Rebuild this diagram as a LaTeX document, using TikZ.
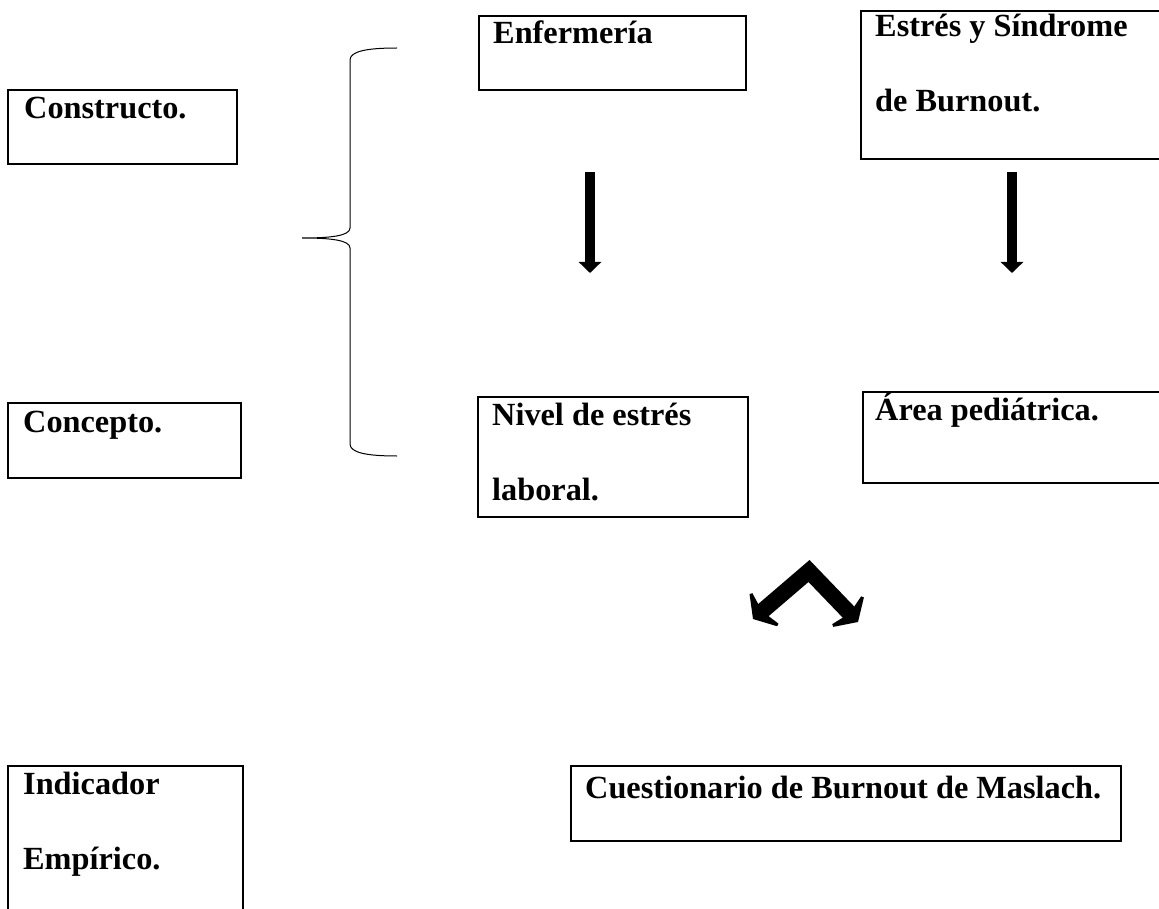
\documentclass[tikz,border=0pt]{standalone}
\usepackage{fontspec}
\setmainfont{Liberation Serif}
\usetikzlibrary{arrows.meta,positioning}

\tikzset{
  caja/.style={draw, line width=1.6pt, inner sep=0pt, anchor=north west},
  etiqueta/.style={anchor=base west, align=left, inner sep=0pt,
    font=\fontsize{32.3}{75}\selectfont\bfseries},
  flecha/.style={line width=10pt, -{Triangle[width=22pt,length=11pt]}},
}

\begin{document}
\begin{tikzpicture}[x=1pt, y=-1pt]
  \useasboundingbox (0,0) rectangle (1159,909);
  % left column
  \node[caja, minimum width=229, minimum height=74] (constructo) at (7,89) {};
  \node[etiqueta] (tconstructo) at ([xshift=17pt,yshift=-30pt]constructo.north west) {Constructo.};
  \node[caja, minimum width=233, minimum height=75] (concepto) at (7,402) {};
  \node[etiqueta] (tconcepto) at ([xshift=16pt,yshift=-30pt]concepto.north west) {Concepto.};
  \node[caja, minimum width=235, minimum height=170] (indicador) at (7,765) {};
  % two lines: base is the second line
  \node[etiqueta] (tindicador) at ([xshift=16pt,yshift=-104pt]indicador.north west) {Indicador\\Empírico.};
  % brace
  \draw[line width=1pt] (397,48) .. controls (368,48) and (350,51) .. (350,60)
    -- (350,228) .. controls (350,236) and (330,238) .. (302,238)
    .. controls (330,238) and (350,240) .. (350,248)
    -- (350,444) .. controls (350,453) and (368,456) .. (397,456);
  % middle column
  \node[caja, minimum width=267, minimum height=74] (enfermeria) at (478,15) {};
  \node[etiqueta] (tenfermeria) at ([xshift=15pt,yshift=-29pt]enfermeria.north west) {Enfermería};
  \node[caja, minimum width=270, minimum height=120] (nivel) at (477,396) {};
  \node[etiqueta] (tnivel) at ([xshift=15pt,yshift=-104pt]nivel.north west) {Nivel de estrés\\laboral.};
  % right column
  \node[caja, minimum width=320, minimum height=148] (estres) at (860,10) {};
  \node[etiqueta] (testres) at ([xshift=15pt,yshift=-102pt]estres.north west) {Estrés y Síndrome\\de Burnout.};
  \node[caja, minimum width=320, minimum height=91] (area) at (862,391) {};
  \node[etiqueta] (tarea) at ([xshift=13pt,yshift=-29pt]area.north west) {Área pediátrica.};
  \node[caja, minimum width=550, minimum height=75] (cuestionario) at (570,765) {};
  \node[etiqueta] (tcuestionario) at ([xshift=15pt,yshift=-33pt]cuestionario.north west) {Cuestionario de Burnout de Maslach.};
  % arrows
  \coordinate (f1a) at (590,172);
  \coordinate (f1b) at (590,273);
  \coordinate (f2a) at (1012,172);
  \coordinate (f2b) at (1012,273);
  \draw[flecha] (f1a) -- (f1b);
  \draw[flecha] (f2a) -- (f2b);
  % bent double arrow
  \coordinate (vizq) at (753,619);
  \coordinate (vert) at (809,571);
  \coordinate (vder) at (858,622);
  \draw[line width=16pt, miter limit=4,
    {Stealth[width=56pt,length=18pt,inset=6pt]}-{Stealth[width=56pt,length=18pt,inset=6pt]}]
    (vizq) -- (vert) -- (vder);
\end{tikzpicture}
\end{document}
